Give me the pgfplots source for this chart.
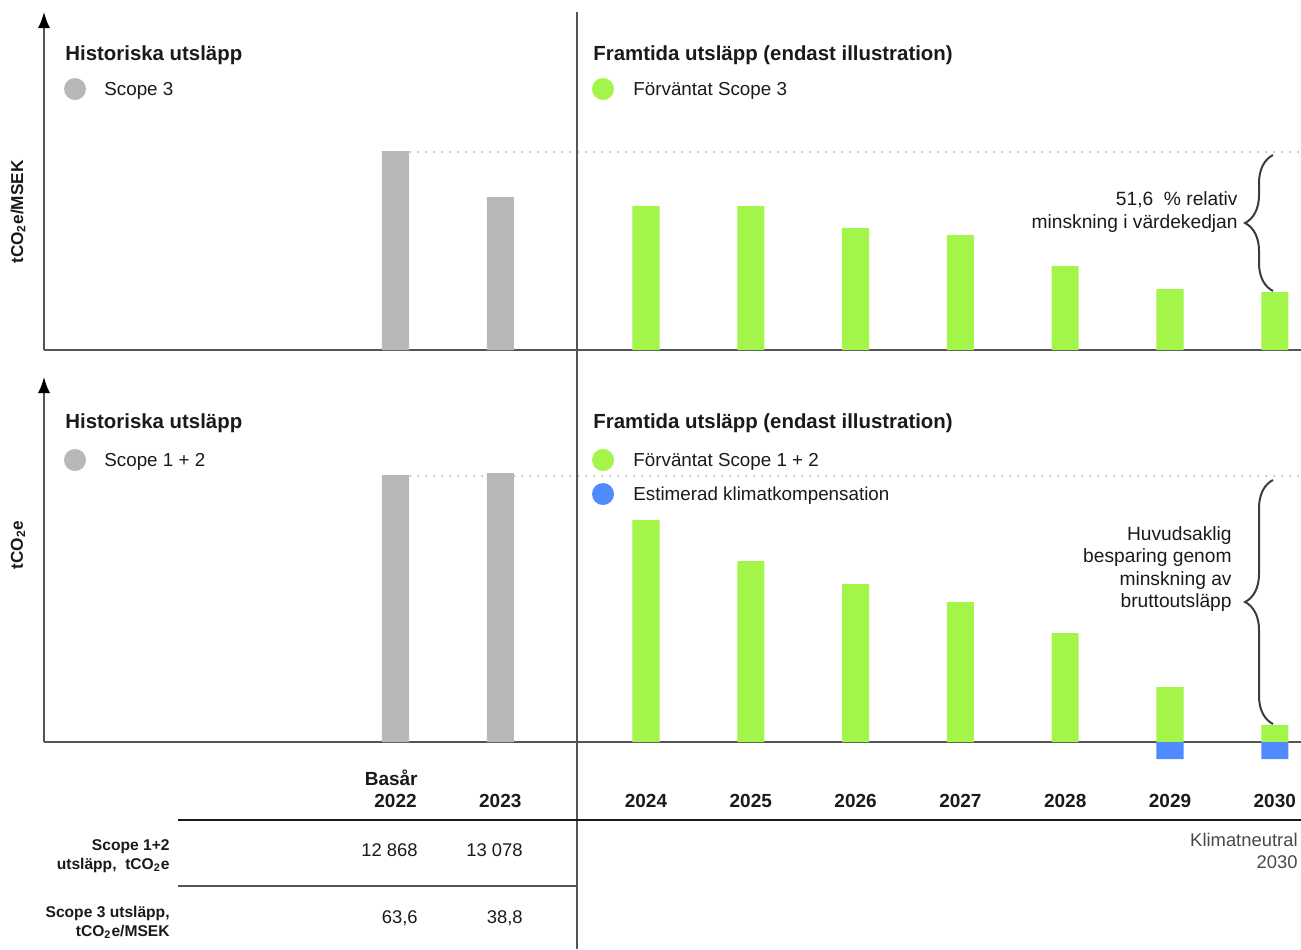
\documentclass[border=0pt]{standalone}
\usepackage{pgfplots}
\pgfplotsset{compat=1.18}
\usepackage{fontspec}
\setmainfont{Liberation Sans}
\usetikzlibrary{arrows.meta,decorations.pathreplacing}

\definecolor{histgray}{HTML}{B8B8B8}
\definecolor{futgreen}{HTML}{A3F54A}
\definecolor{kompblue}{HTML}{4F8BFF}
\definecolor{axisgray}{HTML}{555555}
\definecolor{dotgray}{HTML}{BBBBBB}
\definecolor{ink}{HTML}{1A1A1A}

% one panel = full width, x in years, future years shifted right past the divider
\pgfplotsset{panel/.style={
    scale only axis, width=628.5pt,
    xmin=2018.646, xmax=2030.64, ymin=0,
    axis lines=left,
    axis line style={axisgray, line width=0.8pt},
    x axis line style={-},
    y axis line style={-{Latex[length=8pt,width=6pt,color=black]}},
    ytick=\empty, clip=false,
    ybar, bar width=0.258,
}}
\newcommand{\fs}[1]{\fontsize{#1}{#1}\selectfont}

\begin{document}
\begin{tikzpicture}[font=\fs{9}, text=ink]
\path[use as bounding box] (0,0) rectangle (650.5pt,-474.5pt);

% top panel: Scope 3, tCO2e/MSEK (illustrative heights)
\begin{axis}[panel, at={(22pt,-175pt)}, anchor=south west,
    height=169pt, ymax=338, xtick=\empty]
  \addplot[fill=histgray, draw=none, bar shift=0] coordinates {(2022,199) (2023,153)};
  \addplot[fill=futgreen, draw=none, bar shift=0.39] coordinates {
    (2024,144) (2025,144) (2026,122) (2027,115) (2028,84) (2029,61) (2030,58)};
  \draw[dotgray, line width=1.1pt, line cap=round, dash pattern=on 0pt off 4pt]
    (axis cs:2022.14,198) -- (axis cs:2030.64,198);
\end{axis}

% bottom panel: Scope 1+2, tCO2e
\begin{axis}[panel, at={(22pt,-371pt)}, anchor=south west,
    height=182.5pt, ymax=365,
    xtick={2022,2023,2024.39,2025.39,2026.39,2027.39,2028.39,2029.39,2030.39},
    xticklabels={2022,2023,2024,2025,2026,2027,2028,2029,2030},
    major tick length=0pt,
    xticklabel style={font=\bfseries\fs{9.5}, anchor=base, yshift=-32.5pt}]
  \addplot[fill=histgray, draw=none, bar shift=0] coordinates {(2022,267) (2023,269)};
  \addplot[fill=futgreen, draw=none, bar shift=0.39] coordinates {
    (2024,222) (2025,181) (2026,158) (2027,140) (2028,109) (2029,55) (2030,17)};
  \addplot[fill=kompblue, draw=none, bar shift=0.39] coordinates {(2029,-17) (2030,-17)};
  \draw[dotgray, line width=1.1pt, line cap=round, dash pattern=on 0pt off 4pt]
    (axis cs:2022.14,266) -- (axis cs:2030.64,266);
\end{axis}

\begin{scope}[x=0.5pt, y=-0.5pt, every node/.style={inner sep=0pt}]
  \draw[axisgray, line width=0.8pt] (577,12) -- (577,949);

  % headings and legends, top
  \node[anchor=base west, font=\bfseries\fs{10.2}] at (65,60) {Historiska utsläpp};
  \node[anchor=base west, font=\bfseries\fs{10.2}] at (593,60) {Framtida utsläpp (endast illustration)};
  \fill[histgray] (75,89) circle (5.5pt);
  \node[anchor=base west, font=\fs{9.4}] at (104,95) {Scope 3};
  \fill[futgreen] (603,89) circle (5.5pt);
  \node[anchor=base west, font=\fs{9.4}] at (633,95) {Förväntat Scope 3};

  % headings and legends, bottom
  \node[anchor=base west, font=\bfseries\fs{10.2}] at (65,428) {Historiska utsläpp};
  \node[anchor=base west, font=\bfseries\fs{10.2}] at (593,428) {Framtida utsläpp (endast illustration)};
  \fill[histgray] (75,460) circle (5.5pt);
  \node[anchor=base west, font=\fs{9.4}] at (104,466) {Scope 1 + 2};
  \fill[futgreen] (603,460) circle (5.5pt);
  \node[anchor=base west, font=\fs{9.4}] at (633,466) {Förväntat Scope 1 + 2};
  \fill[kompblue] (603,494) circle (5.5pt);
  \node[anchor=base west, font=\fs{9.4}] at (633,500) {Estimerad klimatkompensation};

  % y labels
  \node[rotate=90, font=\bfseries\fs{8.6}] at (18,212) {tCO\textsubscript{2}e/MSEK};
  \node[rotate=90, font=\bfseries\fs{8.6}] at (18,545) {tCO\textsubscript{2}e};

  % braces
  \draw[ink!85, line width=1pt, decorate, decoration={brace, amplitude=14pt}]
    (1273,291) -- (1273,155);
  \node[anchor=base east, font=\fs{9.6}] at (1238,205) {51,6\ \ \% relativ};
  \node[anchor=base east, font=\fs{9.6}] at (1238,228) {minskning i värdekedjan};
  \draw[ink!85, line width=1pt, decorate, decoration={brace, amplitude=14pt}]
    (1273,724) -- (1273,480);
  \node[anchor=base east, font=\fs{9.6}] at (1232,540) {Huvudsaklig};
  \node[anchor=base east, font=\fs{9.6}] at (1232,562) {besparing genom};
  \node[anchor=base east, font=\fs{9.6}] at (1232,585) {minskning av};
  \node[anchor=base east, font=\fs{9.6}] at (1232,607) {bruttoutsläpp};

  % table
  \node[anchor=base east, font=\bfseries\fs{9.5}] at (418,785) {Basår};
  \draw[ink, line width=0.6pt] (178,820) -- (1301,820);
  \draw[axisgray, line width=0.6pt] (178,886) -- (577,886);
  \node[anchor=base east, font=\bfseries\fs{7.8}] at (170,850) {Scope 1+2};
  \node[anchor=base east, font=\bfseries\fs{7.8}] at (170,869) {utsläpp,\ \ tCO\textsubscript{2}e};
  \node[anchor=base east, font=\bfseries\fs{7.8}] at (170,917) {Scope 3 utsläpp,};
  \node[anchor=base east, font=\bfseries\fs{7.8}] at (170,936) {tCO\textsubscript{2}e/MSEK};
  \node[anchor=base east, font=\fs{9.2}] at (418,856) {12 868};
  \node[anchor=base east, font=\fs{9.2}] at (523,856) {13 078};
  \node[anchor=base east, font=\fs{9.2}] at (418,923) {63,6};
  \node[anchor=base east, font=\fs{9.2}] at (523,923) {38,8};
  \node[anchor=base east, font=\fs{9.2}, text=ink!80] at (1298,846) {Klimatneutral};
  \node[anchor=base east, font=\fs{9.2}, text=ink!80] at (1298,868) {2030};
\end{scope}
\end{tikzpicture}
\end{document}
